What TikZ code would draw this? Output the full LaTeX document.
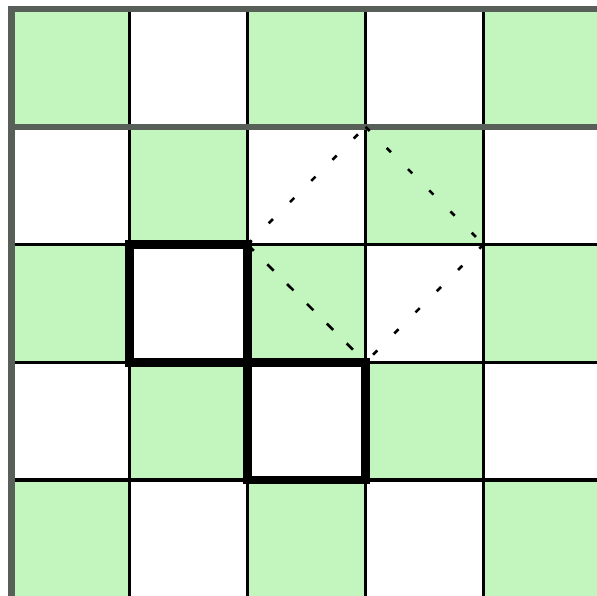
\documentclass[tikz,border=0pt]{standalone}
\definecolor{cellgreen}{RGB}{194,246,190}
\definecolor{bordergray}{RGB}{88,94,88}
\tikzset{
  gridline/.style={black,line width=3.5pt},
  grayline/.style={bordergray,line width=6.5pt},
  boldbox/.style={black,line width=8.5pt},
  diadash/.style={black,line width=2.6pt,dash pattern=on 6pt off 24pt},
  diadense/.style={black,line width=2.6pt,dash pattern=on 9pt off 19pt},
}
\begin{document}
\begin{tikzpicture}[x=1pt,y=-1pt]
\useasboundingbox (0,0) rectangle (597,595);
\fill[white] (0,0) rectangle (597,595);
\begin{scope}
\clip (0,0) rectangle (597,595);
% checkerboard
\foreach \r in {0,...,4}{
  \foreach \c in {0,...,4}{
    \pgfmathtruncatemacro{\myparity}{mod(\r+\c,2)}
    \ifnum\myparity=0
      \fill[cellgreen] ({11.5+118*\c},{9+117.75*\r}) rectangle ++(118,117.75);
    \fi
  }
}
% black grid lines
\foreach \c in {1,2,3,4}
  \draw[gridline] ({11.5+118*\c},9) -- ({11.5+118*\c},600);
\foreach \r in {2,3,4}
  \draw[gridline] (11.5,{9+117.75*\r}) -- (600,{9+117.75*\r});
% gray border lines
\draw[grayline] (11.5,9) -- (11.5,600);
\draw[grayline] (8.25,9) -- (600,9);
\draw[grayline] (11.5,126.75) -- (600,126.75);
% bold boxes
\draw[boldbox] (129.5,244.5) rectangle (247.5,362.25);
\draw[boldbox] (247.5,362.25) rectangle (365.5,480);
\end{scope}
% diamond vertices
\coordinate (L) at (247.5,244.5);
\coordinate (T) at (365.5,126.75);
\coordinate (R) at (483.5,244.5);
\coordinate (B) at (365.5,362.25);
\draw[diadash] (L) -- (T);
\draw[diadash] (T) -- (R);
\draw[diadash] (R) -- (B);
\draw[diadense] (L) -- (B);
\end{tikzpicture}
\end{document}
